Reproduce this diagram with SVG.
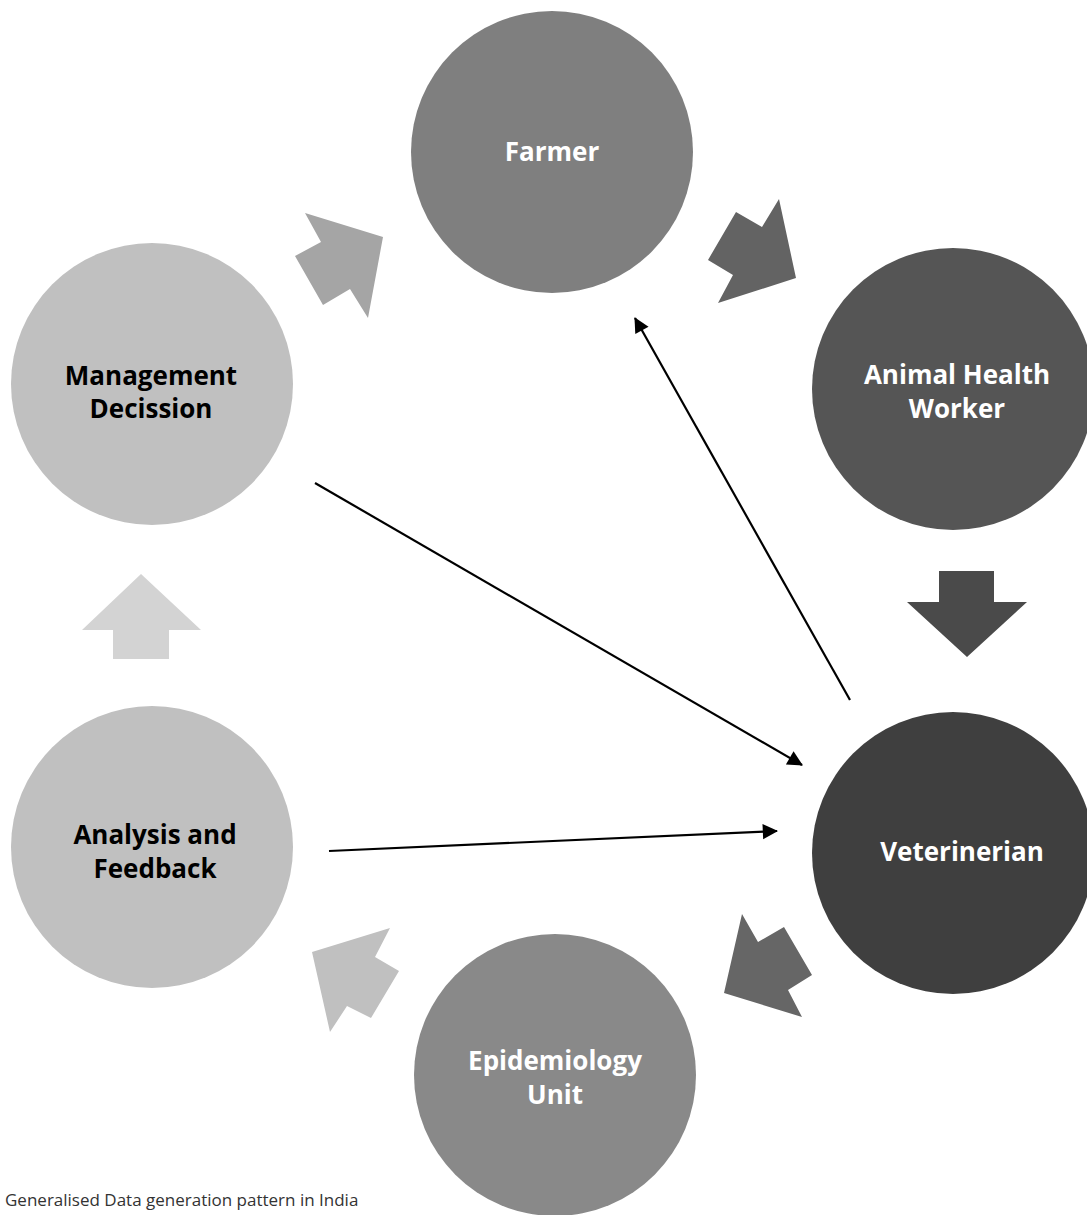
<svg xmlns="http://www.w3.org/2000/svg" width="1087" height="1215" viewBox="0 0 1087 1215">
  <style>
    .lbl { font-family: "Open Sans", "Noto Sans", "Liberation Sans", sans-serif; font-weight: bold; font-size: 26px; text-anchor: middle; }
    .light { fill: #ffffff; }
    .dark { fill: #000000; }
    .link { stroke: #000000; stroke-width: 2.2; fill: none; marker-end: url(#head); }
    .caption { font-family: "Open Sans", "Noto Sans", "Liberation Sans", sans-serif; font-size: 17px; fill: #333333; }
  </style>
  <defs>
    <marker id="head" viewBox="0 0 10 10" refX="9" refY="5" markerWidth="8" markerHeight="8" markerUnits="userSpaceOnUse" orient="auto" overflow="visible">
      <path d="M0,0 L10,5 L0,10 z" fill="#000000" transform="scale(1.9) translate(-4.6,-2.4)"/>
    </marker>
  </defs>
  <rect width="1087" height="1215" fill="#ffffff"/>

  <!-- cycle nodes -->
  <g id="farmer">
    <circle cx="552" cy="152" r="141" fill="#7f7f7f"/>
    <text class="lbl light" x="552" y="161">Farmer</text>
  </g>
  <g id="animal-health-worker">
    <circle cx="953" cy="389" r="141" fill="#555555"/>
    <text class="lbl light" x="957" y="384">Animal Health</text>
    <text class="lbl light" x="957" y="418">Worker</text>
  </g>
  <g id="veterinerian">
    <circle cx="953" cy="853" r="141" fill="#3f3f3f"/>
    <text class="lbl light" x="962" y="861">Veterinerian</text>
  </g>
  <g id="epidemiology-unit">
    <circle cx="555" cy="1075" r="141" fill="#898989"/>
    <text class="lbl light" x="555" y="1070">Epidemiology</text>
    <text class="lbl light" x="555" y="1104">Unit</text>
  </g>
  <g id="analysis-feedback">
    <circle cx="152" cy="847" r="141" fill="#c0c0c0"/>
    <text class="lbl dark" x="155" y="844">Analysis and</text>
    <text class="lbl dark" x="155" y="878">Feedback</text>
  </g>
  <g id="management-decission">
    <circle cx="152" cy="384" r="141" fill="#c0c0c0"/>
    <text class="lbl dark" x="151" y="385">Management</text>
    <text class="lbl dark" x="151" y="418">Decission</text>
  </g>

  <!-- connectors: block arrows around the cycle and thin cross links -->
  <g id="connectors">
    <polygon points="305,213 383,237 368,318 350,289 323,305 295,256 321,242" fill="#a5a5a5"/>
    <polygon points="779,199 796,278 718,303 733,275 708,260 736,212 762,227" fill="#636363"/>
    <polygon points="939,571 994,571 994,602 1027,602 967,657 907,602 939,602" fill="#4a4a4a"/>
    <polygon points="742,914 758,942 784,927 812,975 788,990 802,1017 724,993" fill="#666666"/>
    <polygon points="390,928 375,957 399,971 371,1018 347,1006 330,1032 312,952" fill="#c0c0c0"/>
    <polygon points="141,574 201,630 169,630 169,659 113,659 113,630 82,630" fill="#d3d3d3"/>

    <line class="link" x1="850" y1="700" x2="635" y2="318"/>
    <line class="link" x1="315" y1="483" x2="802" y2="765"/>
    <line class="link" x1="329" y1="851" x2="777" y2="831"/>
  </g>

  <text class="caption" x="5" y="1206">Generalised Data generation pattern in India</text>
</svg>
